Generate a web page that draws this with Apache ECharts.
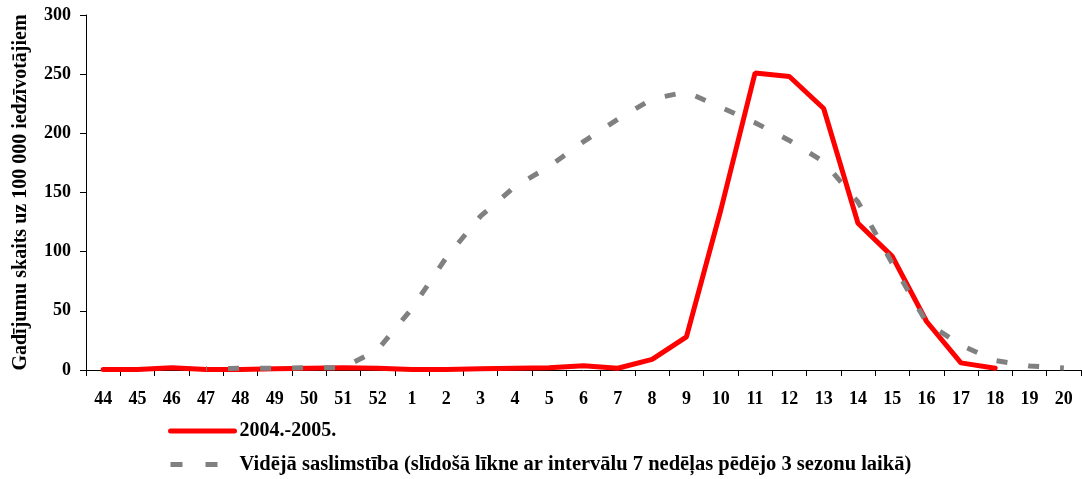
<!DOCTYPE html>
<html>
<head>
<meta charset="utf-8">
<script src="https://cdn.jsdelivr.net/npm/echarts@6/dist/echarts.min.js"></script>
<style>html,body{margin:0;padding:0;background:#fff}#c{width:1082px;height:479px}</style>
</head>
<body>
<div id="c"></div>
<script>
const weeks = ['44','45','46','47','48','49','50','51','52','1','2','3','4','5','6','7','8','9','10','11','12','13','14','15','16','17','18','19','20'];
const season = [0.5,0.5,2,0.5,0.5,1,1.5,2,1.5,0.5,0.5,1,1.5,2,3.5,1.5,9,28,135,251,248,221,124,96,41,6,1.5,null,null];
const average = [null,null,null,1,1.5,1.5,2,2,17,52,95,130,155,172,193,212,229,235,222,209,194,176,142,90,40,21,8,3.4,1.7];
const yTicks = [0,50,100,150,200,250,300];
const nameSeason = '2004.-2005.';
const nameAverage = 'Vidējā saslimstība (slīdošā līkne ar intervālu 7 nedēļas pēdējo 3 sezonu laikā)';
const FONT = "'Times New Roman','Liberation Serif',serif";

const chart = echarts.init(document.getElementById('c'), null, {renderer:'canvas'});
chart.setOption({
  animation: false,
  backgroundColor: '#fff',
  grid: {left: 86, right: 1, top: 15, bottom: 109, containLabel: false},
  xAxis: {
    type: 'category',
    data: weeks,
    boundaryGap: true,
    axisLine: {lineStyle: {color: '#000', width: 1}},
    axisTick: {show: true, length: 6, lineStyle: {color: '#000'}},
    axisLabel: {color: '#000', fontFamily: FONT, fontWeight: 'bold', fontSize: 18, margin: 20, interval: 0},
    splitLine: {show: false}
  },
  yAxis: {
    type: 'value',
    min: yTicks[0], max: yTicks[yTicks.length-1], interval: 50,
    name: 'Gadījumu skaits uz 100 000 iedzīvotājiem',
    nameLocation: 'middle',
    nameGap: 55,
    nameTextStyle: {color: '#000', fontFamily: FONT, fontWeight: 'bold', fontSize: 20},
    axisLine: {show: true, lineStyle: {color: '#000', width: 1}},
    axisTick: {show: true, length: 6, lineStyle: {color: '#000'}},
    axisLabel: {color: '#000', fontFamily: FONT, fontWeight: 'bold', fontSize: 18, margin: 15},
    splitLine: {show: false}
  },
  legend: [
    {
      data: [{name: nameSeason, lineStyle: {width: 5, cap: 'round', color: '#FF0000'}, itemStyle: {opacity: 0}}],
      left: 168, top: 421, orient: 'vertical', padding: 0,
      itemWidth: 64, itemHeight: 14,
      textStyle: {color: '#000', fontFamily: FONT, fontWeight: 'bold', fontSize: 20},
      selectedMode: false
    },
    {
      data: [{name: nameAverage, lineStyle: {type: [12, 23], width: 5, color: '#808080', dashOffset: 0}, itemStyle: {opacity: 0}}],
      left: 168, top: 454, orient: 'vertical', padding: 0,
      itemWidth: 64, itemHeight: 14,
      textStyle: {color: '#000', fontFamily: FONT, fontWeight: 'bold', fontSize: 20.5},
      selectedMode: false
    }
  ],
  series: [
    {
      name: nameSeason,
      type: 'line',
      data: season,
      symbol: 'none',
      color: '#FF0000',
      lineStyle: {color: '#FF0000', width: 5, cap: 'round'},
      z: 2
    },
    {
      name: nameAverage,
      type: 'line',
      data: average,
      symbol: 'none',
      color: '#808080',
      lineStyle: {color: '#808080', width: 5, type: [11, 21], dashOffset: 10, cap: 'butt'},
      z: 3
    }
  ]
});
</script>
</body>
</html>
